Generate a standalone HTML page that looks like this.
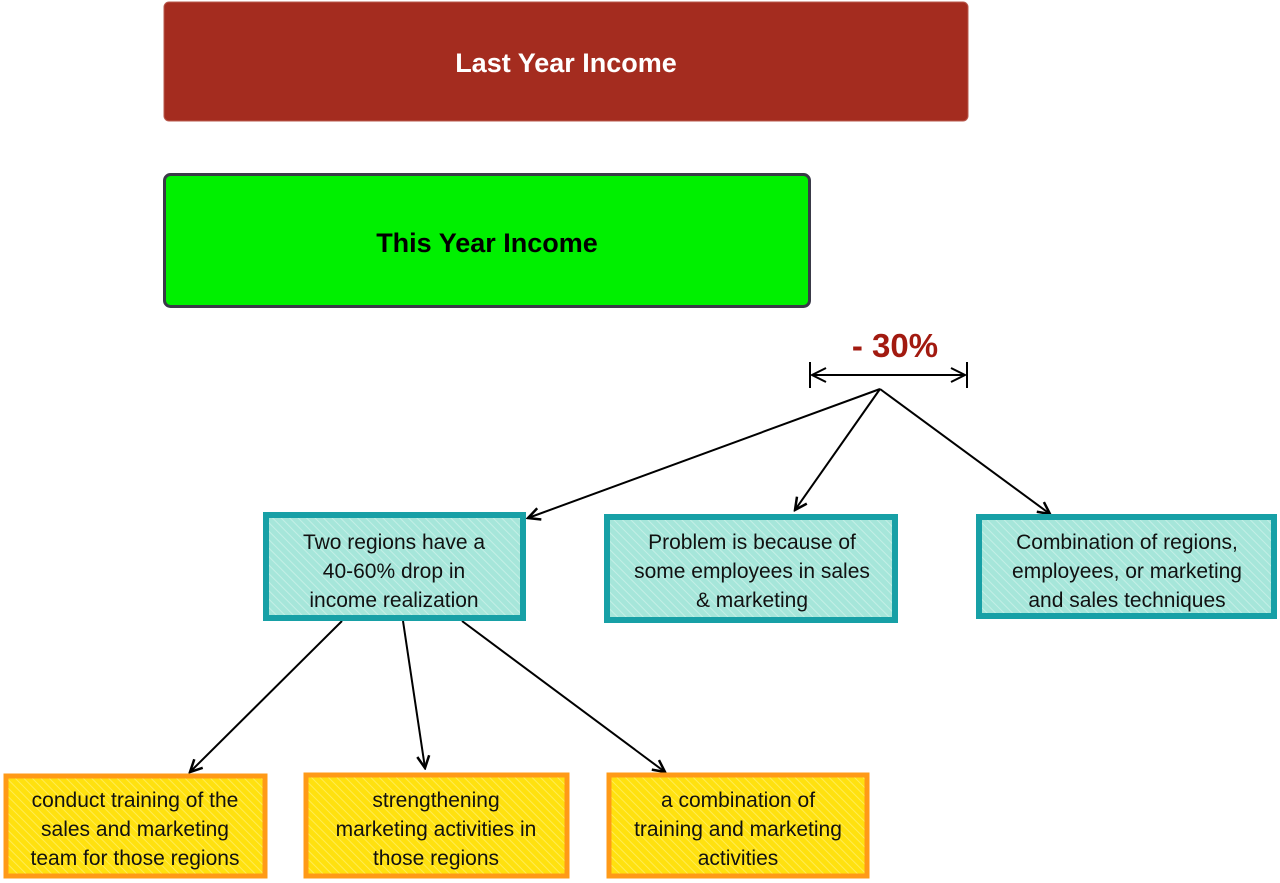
<!DOCTYPE html>
<html><head><meta charset="utf-8"><style>
html,body{margin:0;padding:0;background:#fff;width:1280px;height:883px;overflow:hidden}
svg{display:block}
text{font-family:"Liberation Sans",Arial,sans-serif}
</style></head><body>
<svg width="1280" height="883" viewBox="0 0 1280 883" xmlns="http://www.w3.org/2000/svg">
<defs>
<pattern id="ht" width="6" height="6" patternUnits="userSpaceOnUse" patternTransform="rotate(-45)">
<rect width="6" height="6" fill="#a6e6da"/><line x1="0" y1="0" x2="0" y2="6" stroke="#c4efe6" stroke-width="2"/></pattern>
<pattern id="hy" width="6" height="6" patternUnits="userSpaceOnUse" patternTransform="rotate(-45)">
<rect width="6" height="6" fill="#ffe10f"/><line x1="0" y1="0" x2="0" y2="6" stroke="#ffec55" stroke-width="2"/></pattern>
<marker id="ar" markerWidth="16" markerHeight="16" refX="14" refY="8" orient="auto" markerUnits="userSpaceOnUse">
<path d="M2,2 L14,8 L2,14" fill="none" stroke="#000" stroke-width="2.5"/></marker>
</defs>
<rect x="164" y="2" width="804" height="119" rx="5" fill="#a42c1f" stroke="#b85a4e" stroke-width="1"/>
<text x="566" y="72" font-size="27" font-weight="bold" fill="#fff" text-anchor="middle">Last Year Income</text>
<rect x="164.5" y="174.5" width="645" height="132" rx="6" fill="#00f000" stroke="#3a3a48" stroke-width="3"/>
<text x="487" y="252" font-size="27" font-weight="bold" fill="#000" text-anchor="middle">This Year Income</text>
<text x="895" y="357" font-size="33" font-weight="bold" fill="#a21a10" text-anchor="middle">- 30%</text>
<g stroke="#000" stroke-width="2" fill="none">
<line x1="810" y1="362" x2="810" y2="388"/><line x1="967" y1="362" x2="967" y2="388"/>
<line x1="812" y1="375" x2="965" y2="375"/>
<path d="M826,368 L812,375 L826,382"/><path d="M951,368 L965,375 L951,382"/>
<line x1="880" y1="389" x2="528" y2="518" marker-end="url(#ar)"/>
<line x1="880" y1="389" x2="795" y2="510" marker-end="url(#ar)"/>
<line x1="880" y1="389" x2="1050" y2="514" marker-end="url(#ar)"/>
<line x1="342" y1="621" x2="190" y2="772" marker-end="url(#ar)"/>
<line x1="403" y1="621" x2="425" y2="768" marker-end="url(#ar)"/>
<line x1="462" y1="621" x2="665" y2="772" marker-end="url(#ar)"/>
</g>
<g stroke="#17a0a6" stroke-width="6" stroke-linecap="round">
<rect x="266" y="515" width="257" height="103" fill="url(#ht)"/>
<rect x="607" y="517" width="288" height="103" fill="url(#ht)"/>
<rect x="979" y="517" width="295" height="99" fill="url(#ht)"/>
</g>
<g stroke="#ff9a17" stroke-width="5" stroke-linecap="round">
<rect x="6" y="776" width="259" height="100" fill="url(#hy)"/>
<rect x="306" y="775" width="261" height="101" fill="url(#hy)"/>
<rect x="609" y="775" width="258" height="101" fill="url(#hy)"/>
</g>
<g font-size="21" fill="#111" text-anchor="middle">
<text x="394" y="549">Two regions have a</text>
<text x="394" y="578">40-60% drop in</text>
<text x="394" y="607">income realization</text>
<text x="752" y="549">Problem is because of</text>
<text x="752" y="578">some employees in sales</text>
<text x="752" y="607">&amp; marketing</text>
<text x="1127" y="549">Combination of regions,</text>
<text x="1127" y="578">employees, or marketing</text>
<text x="1127" y="607">and sales techniques</text>
<text x="135" y="807">conduct training of the</text>
<text x="135" y="836">sales and marketing</text>
<text x="135" y="865">team for those regions</text>
<text x="436" y="807">strengthening</text>
<text x="436" y="836">marketing activities in</text>
<text x="436" y="865">those regions</text>
<text x="738" y="807">a combination of</text>
<text x="738" y="836">training and marketing</text>
<text x="738" y="865">activities</text>
</g>
</svg>
</body></html>
